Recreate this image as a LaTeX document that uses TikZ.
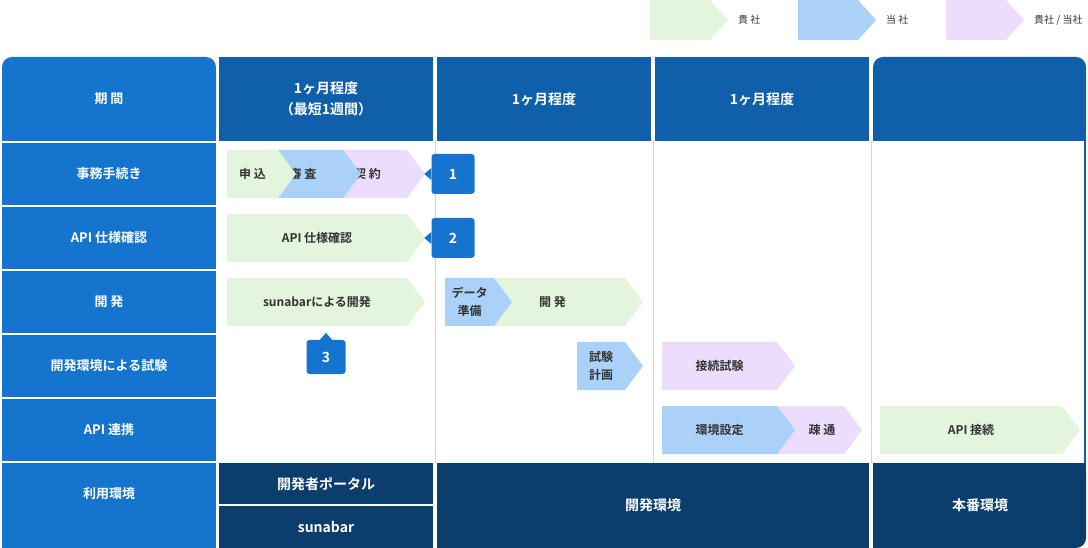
\documentclass[tikz,border=0pt]{standalone}
\usepackage{fontspec}
\setmainfont{Noto Sans CJK JP}[BoldFont={Noto Sans CJK JP Bold}]
\usetikzlibrary{positioning}
\definecolor{cGreen}{HTML}{E3F5DD}
\definecolor{cBlue}{HTML}{AAD1F7}
\definecolor{cPurple}{HTML}{ECDDFC}
\definecolor{cSide}{HTML}{1474CE}
\definecolor{cHead}{HTML}{0F5FAB}
\definecolor{cFoot}{HTML}{0B3D6D}
\definecolor{cRule}{HTML}{C4DCF2}
\definecolor{cText}{HTML}{333333}
% chevron: x0, x1, y0, y1, colour, name, text
\newcommand\chev[7]{%
  \fill[#5] (#1,#3) -- ({#2-18},#3) -- (#2,{(#3+#4)/2}) -- ({#2-18},#4) -- (#1,#4) -- cycle;
  \node[lbl] (#6) at ({(#1+#2-18)/2},{(#3+#4)/2}) {#7};}
\begin{document}
\begin{tikzpicture}%
		[x=1pt, y=-1pt,
		side/.style={fill=cSide, text=white, font=\fontsize{13}{16}\selectfont\bfseries, inner sep=0pt},
		head/.style={fill=cHead, text=white, font=\fontsize{14}{21}\selectfont\bfseries, align=center},
		foot/.style={fill=cFoot, text=white, font=\fontsize{14}{18}\selectfont\bfseries},
		lbl/.style={text=cText, font=\fontsize{12}{18}\selectfont\bfseries, align=center, inner sep=0pt},
		badge/.style={fill=cSide, text=white, rounded corners=3pt, minimum width=43pt, minimum height=40pt, font=\fontsize{14}{16}\selectfont\bfseries}
		]
		\useasboundingbox (0,0) rectangle (1088,548);
		% legend
		\chev{650}{728}{0}{40}{cGreen}{lgA}{}
		\chev{798}{876}{0}{40}{cBlue}{lgB}{}
		\chev{946}{1024}{0}{40}{cPurple}{lgC}{}
		\node[lbl, font=\fontsize{10}{12}\selectfont, anchor=west] (lgAt) at (738,20) {貴 社};
		\node[lbl, font=\fontsize{10}{12}\selectfont, anchor=west] (lgBt) at (886,20) {当 社};
		\node[lbl, font=\fontsize{10}{12}\selectfont, anchor=west] (lgCt) at (1034,20) {貴社 / 当社};
		% left column
		\fill[cSide, rounded corners=10pt] (2,141) -- (2,57) -- (216,57) -- (216,141) -- cycle;
		\fill[cSide] (2,120) rectangle (216,141);
		\node[side] (kikan) at (109,99) {期 間};
		\foreach \y/\t [count=\i] in {143/事務手続き, 207/API 仕様確認, 271/開 発, 335/開発環境による試験, 399/API 連携, 463/利用環境}{
		  \fill[cSide] (2,\y) rectangle (216,\y+62);
		  \node[side] (row\i) at (109,\y+31) {\t};
		}
		\fill[cSide] (2,505) rectangle (216,548);
		% header
		\fill[cHead] (219,57) rectangle (433,141);
		\node[head] (hA) at (326,99) {1ヶ月程度\\（最短1週間）};
		\fill[cHead] (437,57) rectangle (651,141);
		\node[head] (hB) at (544,99) {1ヶ月程度};
		\fill[cHead] (655,57) rectangle (869,141);
		\node[head] (hC) at (762,99) {1ヶ月程度};
		\fill[cHead, rounded corners=10pt] (873,141) -- (873,57) -- (1086,57) -- (1086,141) -- cycle;
		\fill[cHead] (873,70) rectangle (1086,141);
		% grid lines
		\foreach \x in {435,653,871}
		  \draw[cRule, line width=1pt] (\x,141) -- (\x,463);
		\draw[cHead, line width=1.5pt] (1085,141) -- (1085,463);
		% footer
		\fill[cFoot] (219,463) rectangle (433,504);
		\node[foot] (fA) at (326,484) {開発者ポータル};
		\fill[cFoot] (219,506) rectangle (433,548);
		\node[foot] (fB) at (326,527) {sunabar};
		\fill[cFoot] (437,463) rectangle (869,548);
		\node[foot] (fC) at (653,505) {開発環境};
		\fill[cFoot, rounded corners=10pt] (873,463) -- (1086,463) -- (1086,548) -- (873,548) -- cycle;
		\fill[cFoot] (873,463) rectangle (1000,548);
		\fill[cFoot] (873,463) rectangle (1086,500);
		\node[foot] (fD) at (980,505) {本番環境};
		% bars
		\chev{328}{425}{150}{198}{cPurple}{keiyaku}{契 約}
		\chev{263}{361}{150}{198}{cBlue}{shinsa}{審 査}
		\chev{227}{296}{150}{198}{cGreen}{moushi}{申 込}
		\chev{227}{425}{214}{262}{cGreen}{shiyou}{API 仕様確認}
		\chev{227}{425}{278}{326}{cGreen}{sunabar}{sunabarによる開発}
		\chev{480}{643}{278}{326}{cGreen}{kaihatsu}{開 発}
		\chev{445}{512}{278}{326}{cBlue}{data}{データ\\準備}
		\chev{577}{643}{342}{390}{cBlue}{keikaku}{試験\\計画}
		\chev{662}{795}{342}{390}{cPurple}{setsuzoku}{接続試験}
		\chev{760}{862}{406}{454}{cPurple}{sotsu}{}
		\chev{662}{795}{406}{454}{cBlue}{kankyo}{環境設定}
		\node[lbl] (sotsut) at (822,430) {疎 通};
		\chev{880}{1080}{406}{454}{cGreen}{apiconn}{API 接続}
		% badges
		\node[badge] (b1) at (453,174) {1};
		\fill[cSide] (b1.west) ++(0,-6) -- ++(-7,6) -- ++(7,6) -- cycle;
		\node[badge] (b2) at (453,238) {2};
		\fill[cSide] (b2.west) ++(0,-6) -- ++(-7,6) -- ++(7,6) -- cycle;
		\node[badge, minimum width=39pt, minimum height=34pt] (b3) at (326,357) {3};
		\fill[cSide] (b3.north) ++(-6,0) -- ++(6,-7) -- ++(6,7) -- cycle;
\end{tikzpicture}
\end{document}
